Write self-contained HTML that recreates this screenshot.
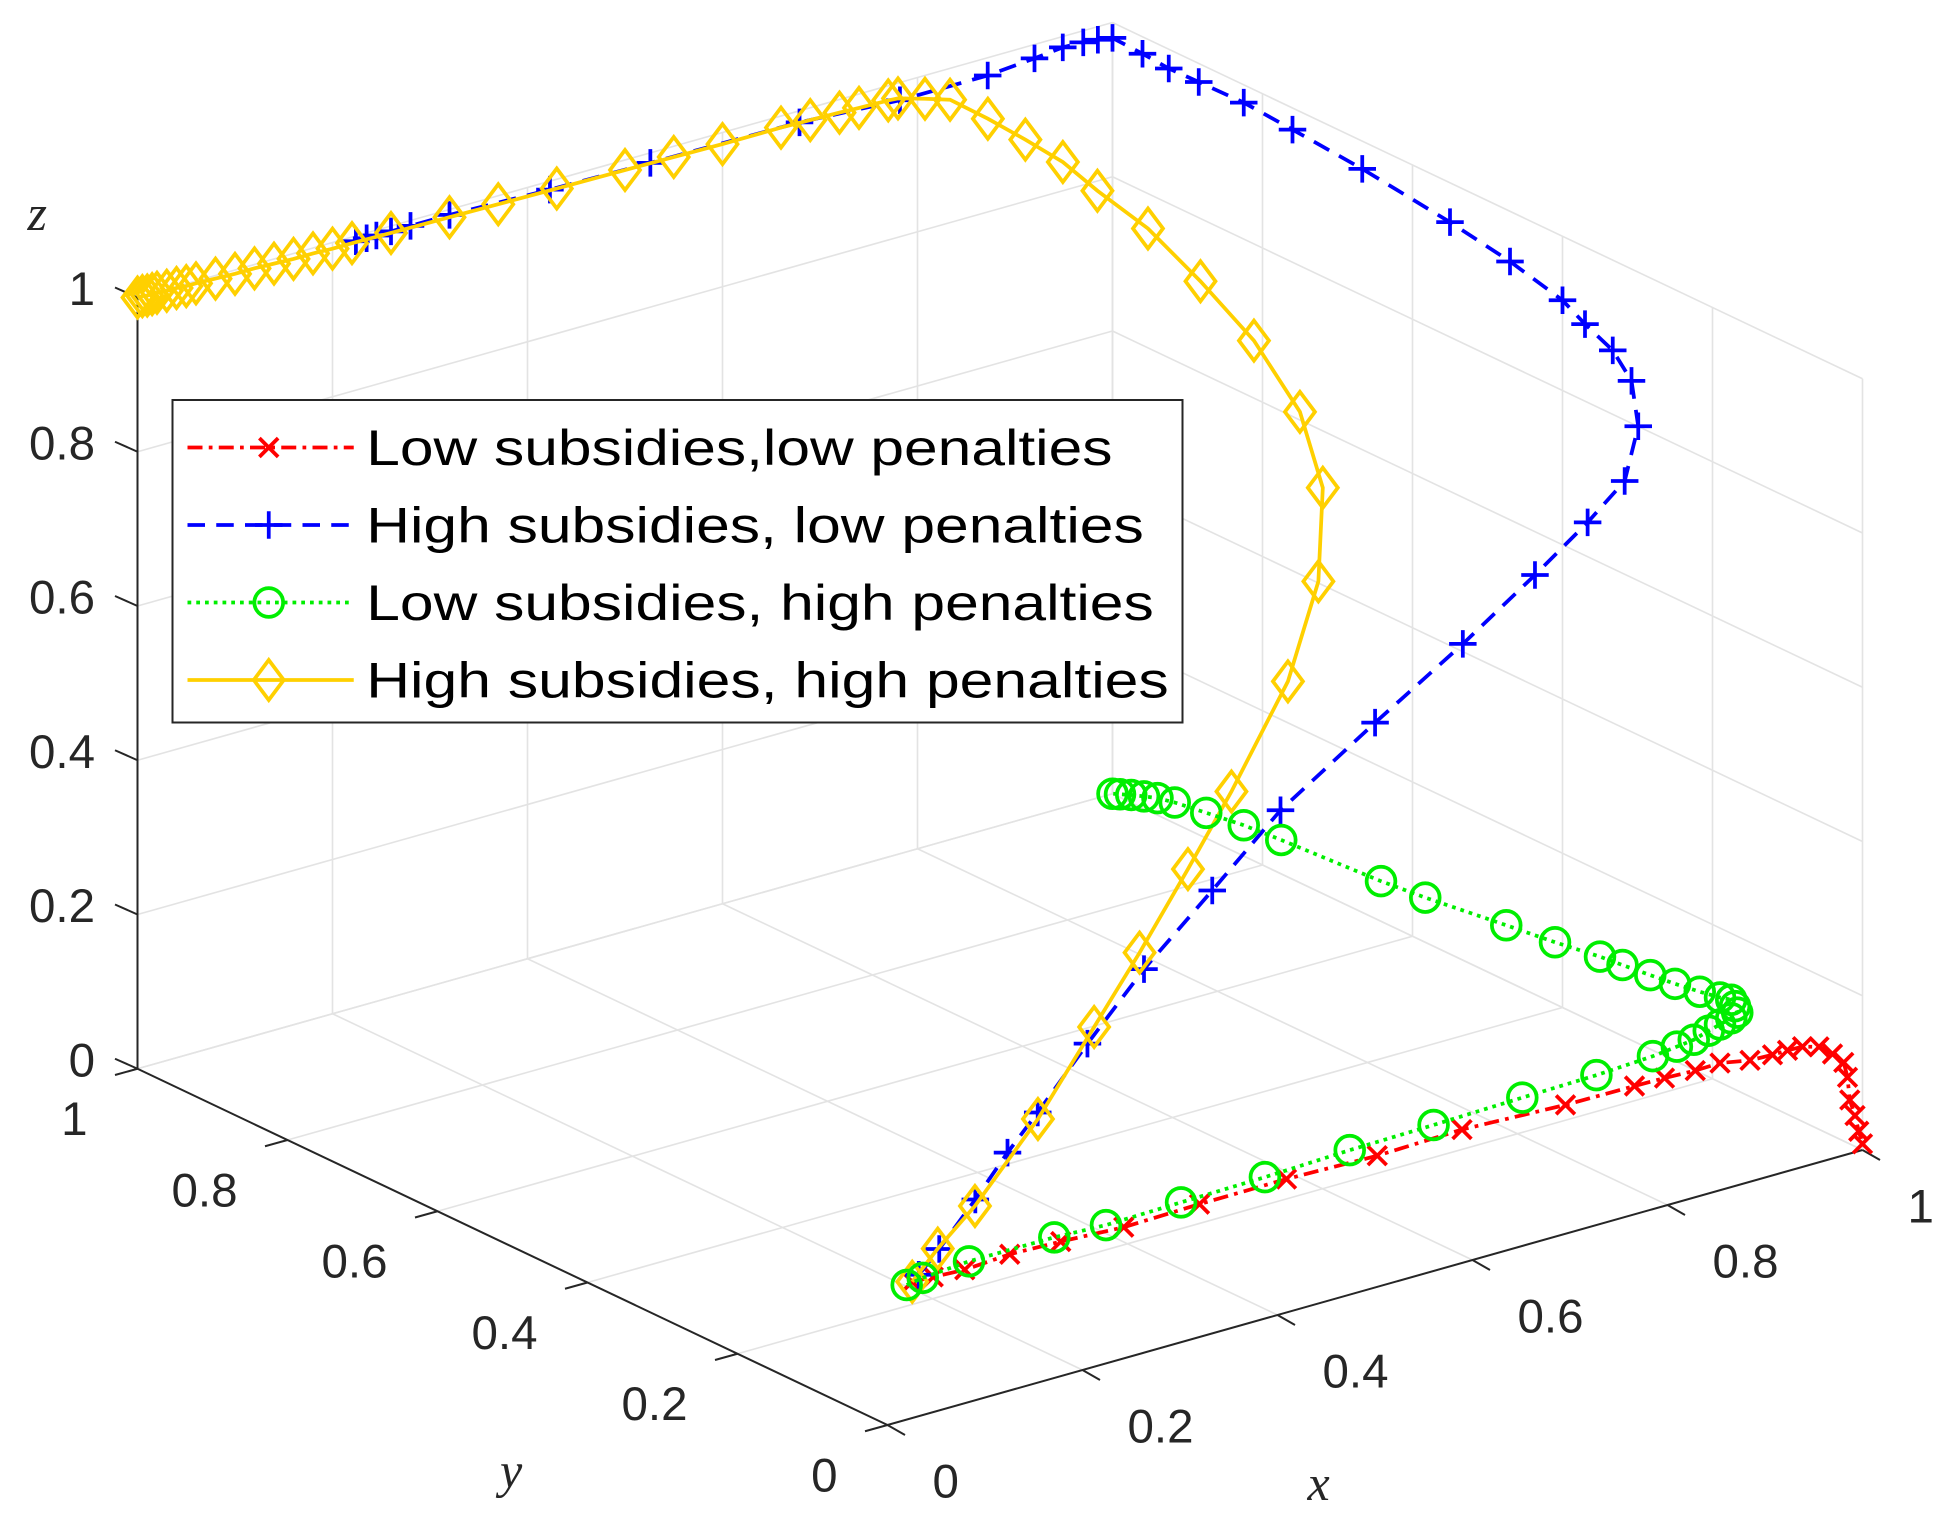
<!DOCTYPE html>
<html><head><meta charset="utf-8"><style>
html,body{margin:0;padding:0;background:#fff;}
svg{display:block;}
</style></head><body>
<svg id="chart" width="1952" height="1531" viewBox="0 0 1561.6 1224.8" xmlns="http://www.w3.org/2000/svg" style="font-family:'Liberation Sans',Arial,sans-serif">
<g id="grid"></g>
<g id="axes"></g>
<g id="series"></g>
<g id="legend"></g>
</svg>
<script>
const tickValues = [0, 0.2, 0.4, 0.6, 0.8, 1];
const tickLabels = ["0", "0.2", "0.4", "0.6", "0.8", "1"];
const seriesNames = ["Low subsidies,low penalties", "High subsidies, low penalties", "Low subsidies, high penalties", "High subsidies, high penalties"];

const redX = [0.21,0.23,0.26,0.31,0.36,0.42,0.50,0.59,0.68,0.77,0.87,0.94,0.97,1.0,1.0,1.0,1.0,1.0,1.0,1.0,1.0,1.0,1.0,1.0,1.0,1.0,1.0];
const redY = [0.24,0.238,0.235,0.24,0.237,0.231,0.234,0.235,0.231,0.235,0.227,0.226,0.225,0.223,0.19,0.15,0.12,0.10,0.08,0.058,0.04,0.025,0.02,0.017,0.01,0.005,0.0];
const redZ = [0,0,0,0,0,0,0,0,0,0,0,0,0,0,0.025,0.047,0.068,0.083,0.097,0.107,0.106,0.102,0.085,0.057,0.04,0.022,0.008];

const blueX = [0.209,0.23,0.267,0.3,0.331,0.382,0.44,0.51,0.58,0.677,0.767,0.841,0.895,0.933,0.97,1,1,1,1,1,1,1,1,1,1,1,1,1,0.985,0.97,0.949,0.92,0.872,0.782,0.679,0.526,0.423,0.32,0.28,0.26,0.245,0.235,0.224];
const blueY = [0.23,0.23,0.23,0.23,0.23,0.23,0.23,0.23,0.23,0.23,0.23,0.23,0.23,0.23,0.26,0.308,0.333,0.37,0.4,0.47,0.55,0.667,0.76,0.825,0.885,0.925,0.96,1,1,1,1,1,1,1,1,1,1,1,1,1,1,1,1];
const blueZ = [0.014,0.04,0.091,0.14,0.181,0.252,0.328,0.405,0.484,0.563,0.633,0.696,0.745,0.785,0.829,0.855,0.883,0.9,0.917,0.935,0.949,0.964,0.972,0.977,0.976,0.975,0.978,0.98,0.983,0.985,0.986,0.982,0.977,0.977,0.985,0.987,0.989,0.993,0.993,0.993,0.993,0.993,0.993];

const greenX = [0.202,0.22,0.269,0.348,0.401,0.478,0.564,0.651,0.737,0.828,0.904,0.962,0.985,1,1,1,1,1,1,1,1,1,1,1,1,1,1,1,1,1,1,1,1,1,1,1,1,1,1];
const greenY = [0.237,0.239,0.241,0.23,0.23,0.23,0.23,0.23,0.23,0.23,0.23,0.23,0.228,0.225,0.205,0.19,0.175,0.167,0.17,0.175,0.19,0.217,0.25,0.283,0.32,0.35,0.41,0.475,0.583,0.642,0.775,0.825,0.875,0.917,0.94,0.958,0.975,0.99,1];
const greenZ = [0,0.002,0.005,0.013,0.01,0.012,0.014,0.018,0.02,0.023,0.025,0.029,0.034,0.039,0.06,0.075,0.09,0.101,0.108,0.114,0.11,0.105,0.1,0.096,0.092,0.089,0.08,0.072,0.058,0.052,0.044,0.04,0.033,0.027,0.022,0.016,0.01,0.004,0.0];

const yellowX = [0.21,0.24,0.282,0.362,0.435,0.497,0.562,0.622,0.703,0.765,0.808,0.823,0.822,0.821,0.821,0.823,0.826,0.826,0.826,0.818,0.8,0.78,0.77,0.74,0.72,0.69,0.66,0.6,0.55,0.5,0.43,0.37,0.32,0.26,0.22,0.2,0.18,0.16,0.14,0.12,0.1,0.08,0.06,0.05,0.04,0.03,0.02,0.015,0.01,0.005,0];
const yellowY = [0.24,0.245,0.25,0.27,0.29,0.31,0.33,0.35,0.38,0.42,0.47,0.52,0.58,0.65,0.72,0.79,0.84,0.89,0.94,0.98,0.99,1,1,1,1,1,1,1,1,1,1,1,1,1,1,1,1,1,1,1,1,1,1,1,1,1,1,1,1,1,1];
const yellowZ = [0,0.03,0.068,0.143,0.227,0.292,0.368,0.438,0.538,0.627,0.71,0.78,0.845,0.89,0.926,0.942,0.955,0.961,0.965,0.974,0.977,0.98,0.981,0.982,0.983,0.984,0.985,0.985,0.986,0.987,0.988,0.989,0.99,0.991,0.992,0.992,0.993,0.993,0.994,0.995,0.995,0.996,0.997,0.997,0.998,0.998,0.999,0.999,0.999,1,1];

const NS = "http://www.w3.org/2000/svg";
const O = [710,1140], EX = [780,-220], EY = [-600,-285], EZ = [0,-617];
function proj(x,y,z){ return [O[0]+EX[0]*x+EY[0]*y+EZ[0]*z, O[1]+EX[1]*x+EY[1]*y+EZ[1]*z]; }
function mk(tag, attrs, parent){ const e=document.createElementNS(NS,tag); for(const k in attrs) e.setAttribute(k,attrs[k]); parent.appendChild(e); return e; }
function line3(a,b,attrs,parent){ const p=proj(...a), q=proj(...b); return mk('line',Object.assign({x1:p[0],y1:p[1],x2:q[0],y2:q[1]},attrs),parent); }

const grid=document.getElementById('grid');
const gs={stroke:'#e3e3e3','stroke-width':1.3};
tickValues.forEach(t=>{
  let l;
  l=line3([t,0,0],[t,1,0],gs,grid);  
  l=line3([0,t,0],[1,t,0],gs,grid);  
  l=line3([t,1,0],[t,1,1],gs,grid);  
  l=line3([0,1,t],[1,1,t],gs,grid);  
  l=line3([1,t,0],[1,t,1],gs,grid);  
  l=line3([1,0,t],[1,1,t],gs,grid);  
});

const axes=document.getElementById('axes');
const as={stroke:'#262626','stroke-width':1.6};
let ax;
ax=line3([0,0,0],[1,0,0],as,axes);  
ax=line3([0,0,0],[0,1,0],as,axes);  
ax=line3([0,1,0],[0,1,1],as,axes);  
const lab={fill:'#262626','font-size':38};
tickValues.forEach((t,i)=>{
  let p=proj(t,0,0);
  let e=mk('line',{x1:p[0],y1:p[1],x2:p[0]+14,y2:p[1]+8,stroke:'#262626','stroke-width':1.6},axes);
   
  e=mk('text',Object.assign({x:p[0]+36,y:p[1]+58,'text-anchor':'start'},lab),axes); e.textContent=tickLabels[i];
   
  p=proj(0,t,0);
  e=mk('line',{x1:p[0],y1:p[1],x2:p[0]-18,y2:p[1]+5,stroke:'#262626','stroke-width':1.6},axes);
   
  e=mk('text',Object.assign({x:p[0]-40,y:p[1]+53,'text-anchor':'end'},lab),axes); e.textContent=tickLabels[i];
   
  p=proj(0,1,t);
  e=mk('line',{x1:p[0],y1:p[1],x2:p[0]-18,y2:p[1]-8,stroke:'#262626','stroke-width':1.6},axes);
   
  e=mk('text',Object.assign({x:p[0]-34,y:p[1]+6,'text-anchor':'end'},lab),axes); e.textContent=tickLabels[i];
   
});
const axTitle={style:"font-family:'Liberation Serif',serif;font-style:italic;font-size:40px",fill:'#262626'};
let at;
at=mk('text',Object.assign({x:1046,y:1200},axTitle),axes); at.textContent='x';
 
at=mk('text',Object.assign({x:400,y:1190},axTitle),axes); at.textContent='y';
 
at=mk('text',Object.assign({x:22,y:184},axTitle),axes); at.textContent='z';
 

function marker(kind,x,y,color,parent){
  let e;
  const sw=3;
  if(kind==='x'){ const s=7.5; e=mk('path',{d:`M${x-s},${y-s}L${x+s},${y+s}M${x-s},${y+s}L${x+s},${y-s}`,stroke:color,'stroke-width':sw,fill:'none'},parent); }
  else if(kind==='+'){ const s=11; e=mk('path',{d:`M${x-s},${y}L${x+s},${y}M${x},${y-s}L${x},${y+s}`,stroke:color,'stroke-width':sw,fill:'none'},parent); }
  else if(kind==='o'){ e=mk('circle',{cx:x,cy:y,r:11.5,stroke:color,'stroke-width':sw,fill:'none'},parent); }
  else { const w=12,h=16; e=mk('path',{d:`M${x},${y-h}L${x+w},${y}L${x},${y+h}L${x-w},${y}Z`,stroke:color,'stroke-width':sw,fill:'none'},parent); }
  return e;
}
const sg=document.getElementById('series');
const seriesDefs=[
  {X:redX,Y:redY,Z:redZ,color:'#ff0000',dash:'12 5 3 5',m:'x',name:'series-low-subsidies-low-penalties'},
  {X:blueX,Y:blueY,Z:blueZ,color:'#0000ff',dash:'14 9',m:'+',name:'series-high-subsidies-low-penalties'},
  {X:yellowX,Y:yellowY,Z:yellowZ,color:'#ffd000',dash:'none',m:'d',name:'series-high-subsidies-high-penalties'},
  {X:greenX,Y:greenY,Z:greenZ,color:'#00ee00',dash:'3 4',m:'o',name:'series-low-subsidies-high-penalties'}
];
seriesDefs.forEach(s=>{
  const g=mk('g',{},sg);
  
  
  const pts=s.X.map((x,i)=>proj(x,s.Y[i],s.Z[i]));
  const pl=mk('polyline',{points:pts.map(p=>p.join(',')).join(' '),fill:'none',stroke:s.color,'stroke-width':3,'stroke-dasharray':s.dash},g);
  
  
  pts.forEach(p=>{
    const m=marker(s.m,p[0],p[1],s.color,g);
    
    
  });
});

const lg=document.getElementById('legend');
const box=mk('rect',{x:138,y:320,width:808,height:258,fill:'#fff',stroke:'#262626','stroke-width':1.6},lg);


const legColors=['#ff0000','#0000ff','#00ee00','#ffd000'];
const legDash=['12 5 3 5','14 9','3 4','none'];
const legMark=['x','+','o','d'];
const legWidths=[597,622,630,642];
seriesNames.forEach((n,i)=>{
  const y=358+i*62;
  const g=mk('g',{},lg);
  
  
  mk('line',{x1:150,y1:y,x2:283,y2:y,stroke:legColors[i],'stroke-width':3,'stroke-dasharray':legDash[i]},g);
  marker(legMark[i],215,y,legColors[i],g);
  const t=mk('text',{x:293,y:y+14,'font-size':40,fill:'#000',textLength:legWidths[i],lengthAdjust:'spacingAndGlyphs'},g);
  t.textContent=n;
  
  
});
</script>
</body></html>
